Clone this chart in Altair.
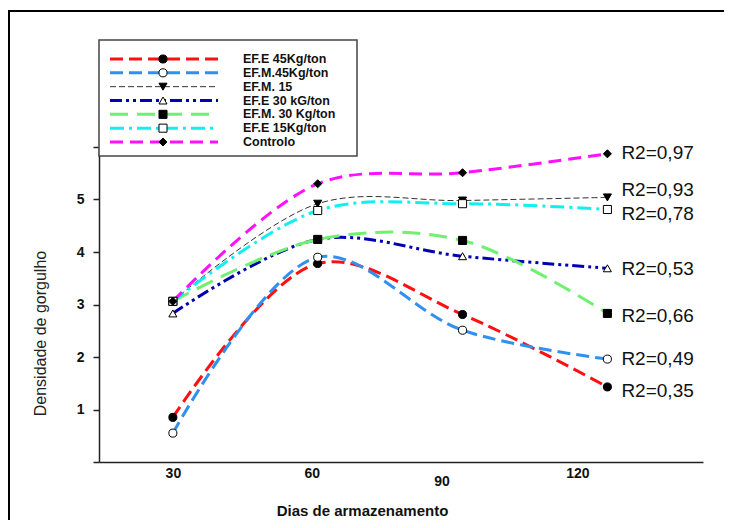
import altair as alt
import pandas as pd

# ---- data ----
days = [30, 60, 90, 120]
series = ["EF.E 45Kg/ton", "EF.M.45Kg/ton", "EF.M. 15", "EF.E 30 kG/ton",
          "EF.M. 30 Kg/ton", "EF.E 15Kg/ton", "Controlo"]
v_efe45 = [0.85, 3.78, 2.81, 1.43]
v_efm45 = [0.55, 3.90, 2.51, 1.96]
v_efm15 = [3.06, 4.92, 4.98, 5.04]
v_efe30 = [2.83, 4.24, 3.92, 3.69]
v_efm30 = [3.06, 4.24, 4.22, 2.83]
v_efe15 = [3.06, 4.79, 4.92, 4.81]
v_ctrl = [3.06, 5.30, 5.51, 5.87]
r2_text = ["R2=0,35", "R2=0,49", "R2=0,93", "R2=0,53", "R2=0,66", "R2=0,78", "R2=0,97"]
r2_label_y = [1.35, 1.96, 5.19, 3.67, 2.78, 4.73, 5.89]

# ---- styles ----
colors = ["#FF1010", "#3090F0", "#333333", "#0000B0", "#70F070", "#10F0F0", "#FF10FF"]
dashes = [[13, 6], [13, 6], [6, 3], [12, 4, 3, 4, 3, 4], [18, 9], [14, 5, 3, 5], [13, 7]]
widths = [3, 3, 1, 3, 3, 3, 3]
shapes = ["circle", "circle", "triangle-down", "triangle-up", "square", "square", "diamond"]
fills = ["black", "white", "black", "white", "black", "white", "black"]

all_vals = [v_efe45, v_efm45, v_efm15, v_efe30, v_efm30, v_efe15, v_ctrl]
rows = []
for s, vals in zip(series, all_vals):
    for d, v in zip(days, vals):
        rows.append({"series": s, "day": d, "value": v})
df = pd.DataFrame(rows)
df_lab = pd.DataFrame({"series": series, "day": [days[-1]] * len(series),
                       "label_y": r2_label_y, "r2": r2_text})
df_leg = pd.DataFrame({"series": series})
one = pd.DataFrame({"a": [0]})

FONT = "Liberation Sans"

col = alt.Color("series:N", scale=alt.Scale(domain=series, range=colors), legend=None)
dash = alt.StrokeDash("series:N", scale=alt.Scale(domain=series, range=dashes), legend=None)
sw = alt.StrokeWidth("series:N", scale=alt.Scale(type="ordinal", domain=series, range=widths), legend=None)
shp = alt.Shape("series:N", scale=alt.Scale(domain=series, range=shapes), legend=None)
fil = alt.Fill("series:N", scale=alt.Scale(domain=series, range=fills), legend=None)

xscale = alt.Scale(domain=[14.7, 139.8], nice=False, zero=False)
yscale = alt.Scale(domain=[0, 6], nice=False, zero=False)

xaxis = alt.Axis(
    values=days, ticks=False, grid=False, domainColor="#222", domainWidth=1.5,
    labelFontWeight="bold", labelFontSize=14, labelFont=FONT, labelColor="#111",
    labelPadding={"condition": {"test": "datum.value == 90", "value": 12}, "value": 4},
    labelOffset={"condition": [
        {"test": "datum.value == 60", "value": -6},
        {"test": "datum.value == 90", "value": -21},
        {"test": "datum.value == 120", "value": -30}], "value": 0},
    title="Dias de armazenamento", titleFont=FONT, titleFontSize=15,
    titleFontWeight="bold", titleColor="#111", titleX=263, titleY=48,
    titleBaseline="middle", titleAlign="center",
)
yaxis = alt.Axis(
    values=[0, 1, 2, 3, 4, 5, 6], grid=False, tickSize=6, tickColor="#222",
    domainColor="#222", domainWidth=1.5, tickWidth=1.5,
    labelExpr="datum.value >= 1 && datum.value <= 5 ? datum.label : ''",
    labelFontWeight="bold", labelFontSize=14, labelFont=FONT, labelColor="#111",
    labelPadding=9,
    title="Densidade de gorgulho", titleFont=FONT, titleFontSize=16,
    titleFontWeight="normal", titleColor="#222", titleX=-59, titleY=186,
    titleAngle=270, titleBaseline="middle", titleAlign="center",
)

base = alt.Chart(df)
lines = base.mark_line(interpolate="catmull-rom").encode(
    x=alt.X("day:Q", scale=xscale, axis=xaxis),
    y=alt.Y("value:Q", scale=yscale, axis=yaxis),
    color=col, strokeDash=dash, strokeWidth=sw, detail="series:N",
)
points = base.mark_point(stroke="black", strokeWidth=1, opacity=1, size=65).encode(
    x=alt.X("day:Q", scale=xscale), y=alt.Y("value:Q", scale=yscale),
    shape=shp, fill=fil,
)
labels = alt.Chart(df_lab).mark_text(
    align="left", baseline="middle", dx=14, fontSize=19, font=FONT, color="#111"
).encode(
    x=alt.X("day:Q", scale=xscale), y=alt.Y("label_y:Q", scale=yscale), text="r2:N",
)
main = alt.layer(lines, points, labels)

# ---- legend box and outer frame ----
frame_top = alt.Chart(one).mark_rule(color="black", strokeWidth=2).encode(
    x=alt.value(-91), x2=alt.value(625), y=alt.value(-136))
frame_left = alt.Chart(one).mark_rule(color="black", strokeWidth=2).encode(
    x=alt.value(-90), y=alt.value(-137), y2=alt.value(373))
box = alt.Chart(one).mark_rect(fill="white", stroke="#444", strokeWidth=1.5).encode(
    x=alt.value(0), x2=alt.value(258), y=alt.value(-107), y2=alt.value(9))

legy = alt.Y("series:N", scale=alt.Scale(type="point", domain=series, range=[-88, -5], padding=0), axis=None)
leg_rules = alt.Chart(df_leg).mark_rule().encode(
    x=alt.value(11), x2=alt.value(119), y=legy, color=col, strokeDash=dash, strokeWidth=sw)
leg_pts = alt.Chart(df_leg).mark_point(stroke="black", strokeWidth=1, opacity=1, size=65).encode(
    x=alt.value(64), y=legy, shape=shp, fill=fil)
leg_txt = alt.Chart(df_leg).mark_text(
    align="left", baseline="middle", fontSize=12.5, fontWeight="bold", font=FONT, color="#111"
).encode(x=alt.value(144), y=legy, text="series:N")
legend = alt.layer(frame_top, frame_left, box, leg_rules, leg_pts, leg_txt)

chart = alt.layer(main, legend).resolve_scale(y="independent").properties(
    width=604, height=315,
    autosize=alt.AutoSizeParams(type="none"),
    padding={"left": 91, "top": 139, "right": 21, "bottom": 58},
    background="white",
).configure_view(stroke=None)

chart.save("out.html", embed_options={"renderer": "svg", "actions": False})
